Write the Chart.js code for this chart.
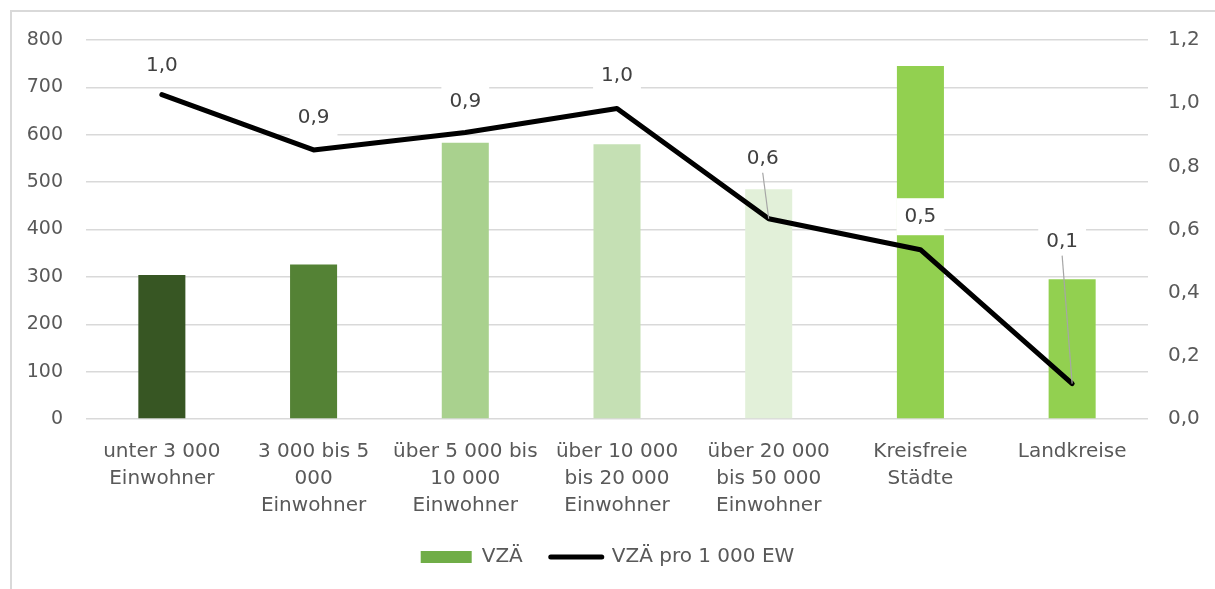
<!DOCTYPE html>
<html>
<head>
<meta charset="utf-8">
<script src="https://cdn.jsdelivr.net/npm/chart.js@4.4.0/dist/chart.umd.min.js"></script>
<style>
  html, body { margin: 0; padding: 0; background: #fff; overflow: hidden; }
  canvas { display: block; }
</style>
</head>
<body>
<canvas id="chart" width="1215" height="589"></canvas>
<script>
// data
var categories = [
  ['unter 3 000', 'Einwohner'],
  ['3 000 bis 5', '000', 'Einwohner'],
  ['über 5 000 bis', '10 000', 'Einwohner'],
  ['über 10 000', 'bis 20 000', 'Einwohner'],
  ['über 20 000', 'bis 50 000', 'Einwohner'],
  ['Kreisfreie', 'Städte'],
  ['Landkreise']
];
var vzaValues = [304, 326, 583, 580, 485, 745, 295];
var vzaPer1000 = [1.027, 0.852, 0.907, 0.983, 0.634, 0.536, 0.112];
var leftTicks = { min: 0, max: 800, step: 100 };
var rightTicks = { min: 0, max: 1.2, step: 0.2 };

var barColors = ['#375623', '#548235', '#a9d18e', '#c5e0b4', '#e2f0d9', '#92d050', '#92d050'];
var legendBarColor = '#70ad47';
var textGrey = '#595959';
var gridGrey = '#d9d9d9';
var fontFamily = '"DejaVu Sans", sans-serif';

function fmtComma(v) {
  return (Math.round(v * 10) / 10).toFixed(1).replace('.', ',');
}

// thin grey frame, only left and top edges are visible in the picture
var frame = {
  id: 'frame',
  beforeDraw: function(chart) {
    var c = chart.ctx;
    c.save();
    c.fillStyle = '#fff';
    c.fillRect(0, 0, chart.width, chart.height);
    c.strokeStyle = gridGrey;
    c.lineWidth = 2;
    c.beginPath();
    c.moveTo(11, chart.height);
    c.lineTo(11, 11);
    c.lineTo(chart.width, 11);
    c.stroke();
    c.restore();
  }
};

// labels on the line points, with white box and optional leader line
var pointLabels = {
  id: 'pointLabels',
  afterDatasetsDraw: function(chart, args, opts) {
    var meta = chart.getDatasetMeta(1);
    var c = chart.ctx;
    c.save();
    c.font = '20px ' + fontFamily;
    c.textAlign = 'center';
    c.textBaseline = 'middle';
    meta.data.forEach(function(pt, i) {
      var text = fmtComma(vzaPer1000[i]);
      var x = pt.x + opts.dx[i];
      var y = pt.y + opts.dy[i];
      var w = c.measureText(text).width + 16;
      var h = 37;
      c.fillStyle = '#fff';
      c.fillRect(x - w / 2, y - h / 2, w, h);
      if (opts.leader[i]) {
        c.strokeStyle = '#a6a6a6';
        c.lineWidth = 1.2;
        c.beginPath();
        c.moveTo(x, y + 14);
        c.lineTo(pt.x, pt.y);
        c.stroke();
      }
      c.fillStyle = '#404040';
      c.fillText(text, x, y);
    });
    c.restore();
  }
};

var ctx = document.getElementById('chart').getContext('2d');
var chart = new Chart(ctx, {
  type: 'bar',
  data: {
    labels: categories,
    datasets: [{
      type: 'bar',
      label: 'VZÄ',
      data: vzaValues,
      backgroundColor: barColors,
      borderWidth: 0,
      barPercentage: 0.31,
      categoryPercentage: 1,
      yAxisID: 'y',
      order: 1
    }, {
      type: 'line',
      label: 'VZÄ pro 1 000 EW',
      data: vzaPer1000,
      borderColor: '#000',
      backgroundColor: '#000',
      borderWidth: 5,
      borderJoinStyle: 'round',
      borderCapStyle: 'round',
      pointRadius: 0,
      tension: 0,
      yAxisID: 'y1',
      order: 0
    }]
  },
  options: {
    responsive: false,
    animation: false,
    layout: { padding: { top: 40, left: 0, right: 0, bottom: 12 } },
    plugins: {
      tooltip: { enabled: false },
      legend: {
        position: 'bottom',
        labels: {
          usePointStyle: true,
          pointStyleWidth: 51,
          boxHeight: 12,
          padding: 28,
          color: textGrey,
          font: { family: fontFamily, size: 20 },
          generateLabels: function(chart) {
            var ds = chart.data.datasets;
            return [
              { text: ds[0].label, fillStyle: legendBarColor, strokeStyle: legendBarColor, lineWidth: 0,
                pointStyle: 'rect', datasetIndex: 0, fontColor: textGrey, hidden: false },
              { text: ds[1].label, fillStyle: '#000', strokeStyle: '#000', lineWidth: 5, lineCap: 'round',
                pointStyle: 'line', datasetIndex: 1, fontColor: textGrey, hidden: false }
            ];
          }
        }
      },
      pointLabels: {
        dx: [0, 0, 0, 0, -6, 0, -10],
        dy: [-29, -32, -31, -33, -60, -33, -142],
        leader: [false, false, false, false, true, false, true]
      }
    },
    scales: {
      x: {
        grid: { display: false },
        border: { display: false },
        ticks: {
          color: textGrey,
          font: { family: fontFamily, size: 20, lineHeight: 1.35 },
          padding: 11,
          maxRotation: 0,
          autoSkip: false
        },
        afterFit: function(scale) { scale.height = 100; }
      },
      y: {
        position: 'left',
        min: leftTicks.min,
        max: leftTicks.max,
        grid: { color: gridGrey, lineWidth: 1.5, drawTicks: false },
        border: { display: false },
        ticks: {
          stepSize: leftTicks.step,
          color: textGrey,
          font: { family: fontFamily, size: 19 },
          padding: 23
        },
        afterFit: function(scale) { scale.width = 86; }
      },
      y1: {
        position: 'right',
        min: rightTicks.min,
        max: rightTicks.max,
        grid: { display: false, drawTicks: false },
        border: { display: false },
        ticks: {
          stepSize: rightTicks.step,
          color: textGrey,
          font: { family: fontFamily, size: 20 },
          padding: 20,
          callback: function(v) { return fmtComma(v); }
        },
        afterFit: function(scale) { scale.width = 67; }
      }
    }
  },
  plugins: [frame, pointLabels]
});
</script>
</body>
</html>
